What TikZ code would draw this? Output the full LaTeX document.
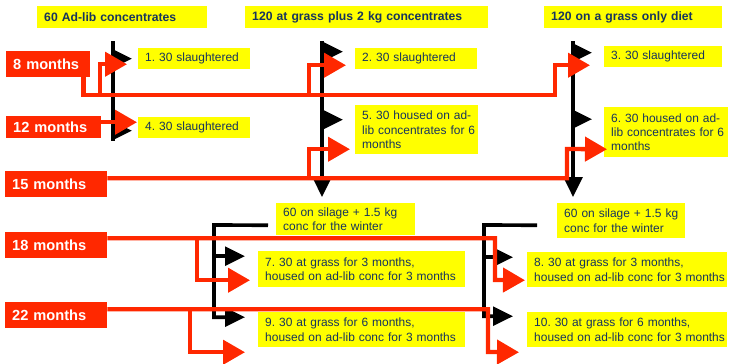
\documentclass[tikz,border=0pt]{standalone}
\usepackage{fontspec}
\setmainfont{Liberation Sans}
\usetikzlibrary{arrows.meta,calc}
\frenchspacing

\definecolor{hiyellow}{RGB}{255,255,0}
\definecolor{hired}{RGB}{255,40,0}
\definecolor{navytext}{RGB}{22,52,94}

\begin{document}
\begin{tikzpicture}[x=0.03cm, y=-0.03cm,
    outbox/.style={fill=hiyellow, text=navytext, anchor=north west, align=left,
        inner xsep=0.21cm, inner ysep=0pt, font=\fontsize{10.2}{12}\selectfont},
    headbox/.style={outbox, minimum height=0.66cm, font=\bfseries\fontsize{10.4}{12}\selectfont},
    monthbox/.style={fill=hired, text=white, anchor=north west, align=left,
        inner xsep=0.21cm, inner ysep=0pt, font=\bfseries\fontsize{12.5}{14}\selectfont},
    tline/.style={black, line width=0.11cm},
    flag/.style={tline, -{Triangle[length=0.6cm, width=0.56cm]}},
    rline/.style={hired, line width=0.13cm, -{Triangle[length=0.66cm, width=0.72cm]}}]
    \useasboundingbox (0,0) rectangle (729,363);

    % Diet groups
    \node[headbox, text width=4.68cm] (hd1) at (37,6) {60 Ad-lib concentrates};
    \node[headbox, text width=6.87cm] (hd2) at (245,6) {120 at grass plus 2 kg concentrates};
    \node[headbox, text width=4.92cm] (hd3) at (544,6) {120 on a grass only diet};

    % Ages
    \node[monthbox, text width=2.10cm, minimum height=0.78cm] (m8) at (6,51) {8 months};
    \node[monthbox, text width=2.43cm, minimum height=0.66cm] (m12) at (6,116) {12 months};
    \node[monthbox, text width=2.64cm, minimum height=0.78cm] (m15) at (5,171) {15 months};
    \node[monthbox, text width=2.64cm, minimum height=0.78cm] (m18) at (5,232) {18 months};
    \node[monthbox, text width=2.64cm, minimum height=0.78cm] (m22) at (5,302) {22 months};

    % Outcomes
    \node[outbox, text width=2.94cm, minimum height=0.63cm] (s1) at (138,48) {1. 30 slaughtered};
    \node[outbox, text width=3.24cm, minimum height=0.63cm] (s2) at (355,48) {2. 30 slaughtered};
    \node[outbox, text width=3.12cm, minimum height=0.63cm] (s3) at (604,46) {3. 30 slaughtered};
    \node[outbox, text width=2.94cm, minimum height=0.63cm] (s4) at (138,117) {4. 30 slaughtered};
    \node[outbox, text width=3.27cm, minimum height=1.47cm] (s5) at (355,105)
        {\mbox{5. 30 housed on ad-}\\\mbox{lib concentrates for 6}\\months};
    \node[outbox, text width=3.30cm, minimum height=1.50cm] (s6) at (604,107)
        {\mbox{6. 30 housed on ad-}\\\mbox{lib concentrates for 6}\\months};
    \node[outbox, text width=3.75cm, minimum height=0.96cm] (w2) at (276,203)
        {60 on silage + 1.5 kg\\conc for the winter};
    \node[outbox, text width=3.42cm, minimum height=1.05cm] (w3) at (557,203)
        {60 on silage + 1.5 kg\\conc for the winter};
    \node[outbox, text width=5.79cm, minimum height=1.08cm] (s7) at (258,251)
        {7. 30 at grass for 3 months,\\\mbox{housed on ad-lib conc for 3 months}};
    \node[outbox, text width=5.58cm, minimum height=1.05cm] (s8) at (527,252)
        {8. 30 at grass for 3 months,\\\mbox{housed on ad-lib conc for 3 months}};
    \node[outbox, text width=5.79cm, minimum height=1.05cm] (s9) at (258,312)
        {9. 30 at grass for 6 months,\\\mbox{housed on ad-lib conc for 3 months}};
    \node[outbox, text width=5.58cm, minimum height=1.05cm] (s10) at (527,312)
        {10. 30 at grass for 6 months,\\\mbox{housed on ad-lib conc for 3 months}};

    % Time lines of the groups
    \coordinate (c1) at (113,41);
    \coordinate (c2) at (322,41);
    \coordinate (c3) at (573,41);
    \draw[tline] (c1) -- ($(c1 |- s4.south)+(0,3)$);
    \draw[flag] (c2) -- ($(c2 |- w2.north)+(0,-6)$);
    \draw[flag] (c3) -- ($(c3 |- w3.north)+(0,-6)$);

    \draw[flag] (c1 |- s1.west) -- ($(s1.west)+(-6,0)$);
    \draw[flag] ($(s4.west -| c1)+(0,3)$) -- ($(s4.west)+(-6,3)$);
    \draw[flag] ($(s2.west -| c2)+(0,-7)$) -- ($(s2.west)+(-12,-7)$);
    \draw[flag] ($(s5.west -| c2)+(0,-10)$) -- ($(s5.west)+(-12,-10)$);
    \draw[flag] ($(s3.west -| c3)+(0,-4)$) -- ($(s3.west)+(-12,-4)$);
    \draw[flag] ($(s6.west -| c3)+(0,-13)$) -- ($(s6.west)+(-12,-13)$);

    % Winter groups
    \coordinate (j2) at (214,225);
    \coordinate (j3) at (484,225);
    \draw[flag] ($(w2.west)+(-8,6)$) -- (j2) |- ($(s9.west)+(-13,-12.5)$);
    \draw[flag] ($(s7.west -| j2)+(0,-13)$) -- ($(s7.west)+(-13,-13)$);
    \draw[flag] ($(w3.west)+(-20,4.5)$) -- (j3) |- ($(s10.west)+(-14,-13.5)$);
    \draw[flag] ($(s8.west -| j3)+(0,-12.5)$) -- ($(s8.west)+(-14,-12.5)$);

    % 8 months
    \draw[rline] ($(m8.south east)+(-7,0)$) |- (555,95) |- ($(s3.west)+(-14,8.5)$);
    \draw[rline] (100,95) |- ($(s1.west)+(-11,5.5)$);
    \draw[rline] (309,95) |- ($(s2.west)+(-9,6.5)$);

    % 12 months
    \draw[rline] ($(m12.east)+(0,-5)$) -- ($(s4.west)+(-1,-5.5)$);

    % 15 months
    \draw[rline] ($(m15.east)+(0,-6)$) -| (567,149) -- ($(s6.west)+(3,17)$);
    \draw[rline] (309,178) |- ($(s5.west)+(-5,19.5)$);

    % 18 months
    \draw[rline] ($(m18.east)+(0,-7)$) -| (495,280) -- ($(s8.west)+(-2,10.5)$);
    \draw[rline] (197,238) |- ($(s7.west)+(-8,11)$);

    % 22 months
    \draw[rline] ($(m22.east)+(0,-6)$) -| (488,352) -- ($(s10.west)+(-8,22.5)$);
    \draw[rline] (190,309) |- ($(s9.west)+(-13,22.5)$);
\end{tikzpicture}
\end{document}
